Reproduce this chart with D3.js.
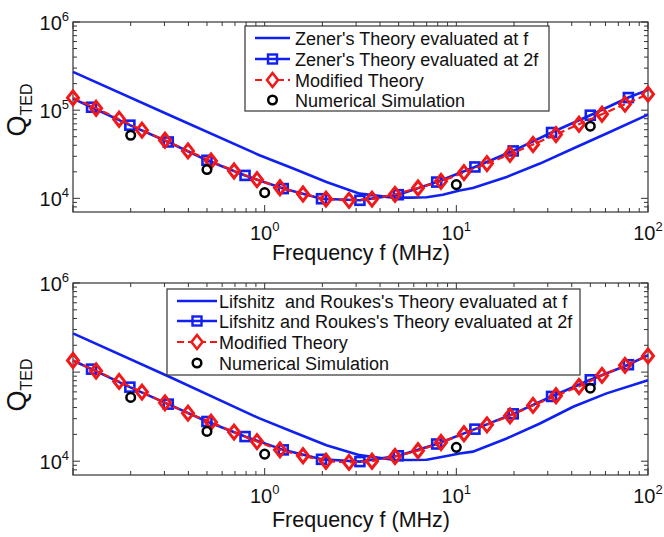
<!DOCTYPE html>
<html>
<head>
<meta charset="utf-8">
<script src="https://cdn.jsdelivr.net/npm/d3@7"></script>
<style>
  body { margin: 0; background: #fff; }
  svg text { font-family: "Liberation Sans", Arial, Helvetica, sans-serif; fill: #111; }
</style>
</head>
<body>
<div id="chart"></div>
<script>
// values (frequency in MHz, Q dimensionless)

// modified theory, red diamonds
var modF = [0.1, 0.132, 0.174, 0.229, 0.302, 0.398, 0.525, 0.692, 0.912, 1.202, 1.585, 2.089, 2.754,
            3.631, 4.786, 6.31, 8.318, 10.96, 14.45, 19.05, 25.12, 33.11, 43.65, 57.54, 75.86, 100];
var modTopQ = [1.38e5, 1.05e5, 7.9e4, 5.93e4, 4.56e4, 3.45e4, 2.65e4, 2.04e4, 1.63e4, 1.32e4, 1.12e4, 9.8e3, 9.5e3,
               9.8e3, 1.11e4, 1.31e4, 1.56e4, 1.96e4, 2.48e4, 3.16e4, 4.08e4, 5.29e4, 6.93e4, 9.0e4, 1.17e5, 1.52e5];
var modBotQ = [1.35e5, 1.03e5, 7.86e4, 5.96e4, 4.52e4, 3.46e4, 2.74e4, 2.12e4, 1.66e4, 1.34e4, 1.15e4, 1.0e4, 9.7e3,
               1.0e4, 1.13e4, 1.31e4, 1.62e4, 2.03e4, 2.56e4, 3.23e4, 4.23e4, 5.42e4, 6.9e4, 9.18e4, 1.19e5, 1.52e5];

// theory evaluated at 2f, blue squares (first and last value are only line ends)
var sqF = [0.1, 0.125, 0.198, 0.314, 0.5, 0.79, 1.25, 1.98, 3.14, 4.98, 7.9, 12.5, 19.8, 31.4, 50, 79, 100];
var zen2fQ = [1.35e5, 1.08e5, 6.76e4, 4.36e4, 2.7e4, 1.82e4, 1.29e4, 9.9e3, 9.5e3, 1.1e4, 1.53e4, 2.27e4,
              3.45e4, 5.58e4, 8.77e4, 1.39e5, 1.7e5];
var lr2fQ = [1.35e5, 1.08e5, 6.78e4, 4.37e4, 2.79e4, 1.89e4, 1.34e4, 1.05e4, 9.9e3, 1.15e4, 1.56e4, 2.29e4,
             3.4e4, 5.33e4, 8.2e4, 1.21e5, 1.55e5];

// theory evaluated at f, plain blue line
var zenF = [0.1, 0.32, 0.94, 1.41, 2.1, 3.13, 4.68, 5.7, 7.0, 8.5, 10.4, 12.2, 18.3, 27.3, 40.7, 60.8, 100];
var zenQ = [2.72e5, 8.77e4, 3.08e4, 2.18e4, 1.53e4, 1.13e4, 1.02e4, 1.02e4, 1.03e4, 1.1e4, 1.23e4, 1.31e4,
            1.75e4, 2.48e4, 3.67e4, 5.43e4, 8.9e4];
var lrQ = [2.72e5, 8.8e4, 3.02e4, 2.13e4, 1.51e4, 1.17e4, 1.04e4, 1.03e4, 1.04e4, 1.12e4, 1.22e4, 1.28e4,
           1.8e4, 2.65e4, 4.08e4, 5.77e4, 8.1e4];

// numerical simulation, black circles
var simF = [0.2, 0.5, 1, 10, 50];
var simTopQ = [5.2e4, 2.12e4, 1.16e4, 1.43e4, 6.58e4];
var simBotQ = [5.2e4, 2.16e4, 1.2e4, 1.43e4, 6.6e4];

var xTickExp = [0, 1, 2];
var yTickExpTop = [4, 5, 6];
var yTickExpBot = [4, 6];

var topLegend = ["Zener's Theory evaluated at f", "Zener's Theory evaluated at 2f",
                 "Modified Theory", "Numerical Simulation"];
var botLegend = ["Lifshitz  and Roukes's Theory evaluated at f", "Lifshitz and Roukes's Theory evaluated at 2f",
                 "Modified Theory", "Numerical Simulation"];

var blue = "#1020f0", red = "#f01818";
var diamond = "M0,-7L5.5,0L0,7L-5.5,0Z";

var svg = d3.select("#chart").append("svg")
    .attr("width", 664)
    .attr("height", 537);

function minorTicks(lo, hi) {
  var t = [];
  for (var e = lo; e < hi; e++) {
    for (var m = 2; m < 10; m++) t.push(m * Math.pow(10, e));
  }
  return t;
}

function drawPanel(p) {
  var x = d3.scaleLog().domain([0.1, 100]).range([73, 648]);
  var y = d3.scaleLog().domain([7000, 1e6]).range([p.bottom, p.top]);
  var g = svg.append("g");

  var xMinor = minorTicks(-1, 2),
      yMinor = [8000, 9000].concat(minorTicks(4, 6));
  var xMajor = [0.1, 1, 10, 100], yMajor = [1e4, 1e5, 1e6];

  // inward ticks on all four sides
  var ax = g.append("g").attr("stroke", "#333").attr("stroke-width", 1);
  xMinor.concat(xMajor).forEach(function(v) {
    var len = xMajor.indexOf(v) >= 0 ? 7 : 4;
    ax.append("line").attr("x1", x(v)).attr("x2", x(v)).attr("y1", p.bottom).attr("y2", p.bottom - len);
    ax.append("line").attr("x1", x(v)).attr("x2", x(v)).attr("y1", p.top).attr("y2", p.top + len);
  });
  yMinor.concat(yMajor).forEach(function(v) {
    var len = yMajor.indexOf(v) >= 0 ? 7 : 4;
    ax.append("line").attr("y1", y(v)).attr("y2", y(v)).attr("x1", 73).attr("x2", 73 + len);
    ax.append("line").attr("y1", y(v)).attr("y2", y(v)).attr("x1", 648).attr("x2", 648 - len);
  });
  g.append("rect")
    .attr("x", 73).attr("y", p.top)
    .attr("width", 575).attr("height", p.bottom - p.top)
    .attr("fill", "none").attr("stroke", "#333").attr("stroke-width", 1.2);

  // tick labels
  xTickExp.forEach(function(e) {
    var t = g.append("text")
      .attr("x", x(Math.pow(10, e))).attr("y", p.bottom + 28)
      .attr("text-anchor", "middle").attr("font-size", "20px");
    t.append("tspan").text("10");
    t.append("tspan").attr("dy", -9).attr("font-size", "13px").text(e);
  });
  p.yTicks.forEach(function(e) {
    var t = g.append("text")
      .attr("x", 69).attr("y", y(Math.pow(10, e)) + 8)
      .attr("text-anchor", "end").attr("font-size", "20px");
    t.append("tspan").text("10");
    t.append("tspan").attr("dy", -9).attr("font-size", "13px").text(e);
  });

  g.append("text")
    .attr("x", 361).attr("y", p.xLabelY)
    .attr("text-anchor", "middle").attr("font-size", "21.5px")
    .text("Frequency f (MHz)");

  var ql = g.append("text")
    .attr("transform", "translate(26," + p.qY + ") rotate(-90)")
    .attr("text-anchor", "middle").attr("font-size", "27px");
  ql.append("tspan").text("Q");
  ql.append("tspan").attr("dy", 6).attr("font-size", "16px").text("TED");

  var line = d3.line()
    .x(function(d) { return x(d[0]); })
    .y(function(d) { return y(d[1]); });

  var one = d3.zip(p.oneF, p.oneQ),
      two = d3.zip(sqF, p.twoQ),
      mod = d3.zip(modF, p.modQ),
      sim = d3.zip(simF, p.simQ);

  var plot = g.append("g");
  plot.append("path").datum(one)
    .attr("fill", "none").attr("stroke", blue).attr("stroke-width", 2.6)
    .attr("d", line);
  plot.append("path").datum(two)
    .attr("fill", "none").attr("stroke", blue).attr("stroke-width", 2.6)
    .attr("d", line);
  plot.selectAll(".sq").data(two.slice(1, -1)).enter().append("rect")
    .attr("x", function(d) { return x(d[0]) - 4.5; })
    .attr("y", function(d) { return y(d[1]) - 4.5; })
    .attr("width", 9).attr("height", 9)
    .attr("fill", "none").attr("stroke", blue).attr("stroke-width", 2.6);
  plot.append("path").datum(mod)
    .attr("fill", "none").attr("stroke", red).attr("stroke-width", 2.2)
    .attr("stroke-dasharray", "7,4")
    .attr("d", line);
  plot.selectAll(".dm").data(mod).enter().append("path")
    .attr("transform", function(d) { return "translate(" + x(d[0]) + "," + y(d[1]) + ")"; })
    .attr("d", diamond)
    .attr("fill", "none").attr("stroke", red).attr("stroke-width", 3);
  plot.selectAll(".ci").data(sim).enter().append("circle")
    .attr("cx", function(d) { return x(d[0]); })
    .attr("cy", function(d) { return y(d[1]); })
    .attr("r", 4.3)
    .attr("fill", "none").attr("stroke", "#000").attr("stroke-width", 2.5);

  // legend
  var L = p.legend;
  var lg = g.append("g");
  lg.append("rect")
    .attr("x", L.x).attr("y", L.y).attr("width", L.w).attr("height", L.h)
    .attr("fill", "#fff").attr("stroke", "#333").attr("stroke-width", 1.2);
  var mid = (L.x1 + L.x2) / 2;
  p.labels.forEach(function(txt, i) {
    var ry = L.rows[i];
    if (i < 2) {
      lg.append("line").attr("x1", L.x1).attr("x2", L.x2).attr("y1", ry).attr("y2", ry)
        .attr("stroke", blue).attr("stroke-width", 2.6);
    }
    if (i == 1) {
      lg.append("rect").attr("x", mid - 4.5).attr("y", ry - 4.5).attr("width", 9).attr("height", 9)
        .attr("fill", "none").attr("stroke", blue).attr("stroke-width", 2.4);
    }
    if (i == 2) {
      lg.append("line").attr("x1", L.x1).attr("x2", L.x2).attr("y1", ry).attr("y2", ry)
        .attr("stroke", red).attr("stroke-width", 2.2).attr("stroke-dasharray", "7,4");
      lg.append("path").attr("transform", "translate(" + mid + "," + ry + ")")
        .attr("d", diamond)
        .attr("fill", "#fff").attr("stroke", red).attr("stroke-width", 2.6);
    }
    if (i == 3) {
      lg.append("circle").attr("cx", mid).attr("cy", ry).attr("r", 4.3)
        .attr("fill", "none").attr("stroke", "#000").attr("stroke-width", 2.5);
    }
    lg.append("text")
      .attr("x", L.tx).attr("y", ry + 6.5)
      .attr("font-size", "18px")
      .style("white-space", "pre")
      .text(txt);
  });
}

drawPanel({
  top: 22, bottom: 212, xLabelY: 260, qY: 110, yTicks: yTickExpTop,
  oneF: zenF, oneQ: zenQ, twoQ: zen2fQ, modQ: modTopQ, simQ: simTopQ,
  labels: topLegend,
  legend: {x: 245, y: 26, w: 304, h: 85, x1: 255, x2: 290, tx: 295, rows: [38, 59, 80, 100]}
});

drawPanel({
  top: 283, bottom: 475, xLabelY: 527, qY: 385, yTicks: yTickExpBot,
  oneF: zenF, oneQ: lrQ, twoQ: lr2fQ, modQ: modBotQ, simQ: simBotQ,
  labels: botLegend,
  legend: {x: 167, y: 289, w: 413, h: 86, x1: 177, x2: 217, tx: 219, rows: [301, 321, 342, 363]}
});
</script>
</body>
</html>
